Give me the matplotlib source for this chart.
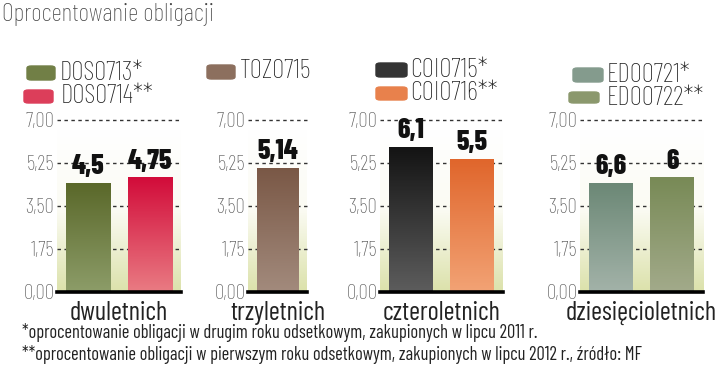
import numpy as np
import matplotlib
matplotlib.use("Agg")
import matplotlib.pyplot as plt
from matplotlib.colors import LinearSegmentedColormap
from matplotlib.patches import FancyBboxPatch

plt.rcParams['font.family'] = ['Barlow Condensed', 'DejaVu Sans']

# data
categories = ["dwuletnich", "trzyletnich", "czteroletnich", "dziesięcioletnich"]
bonds = [["DOS0713*", "DOS0714**"], ["TOZ0715"], ["COI0715*", "COI0716**"], ["EDO0721*", "EDO0722**"]]
bar_heights = [[4.4, 4.62], [5.0], [5.87, 5.36], [4.4, 4.62]]
value_labels = [["4,5", "4,75"], ["5,14"], ["6,1", "5,5"], ["6,6", "6"]]
yticks = [0, 1.75, 3.5, 5.25, 7.0]

# (top colour, bottom colour) per bar
colors = [[("#5a682a", "#8c9c68"), ("#d20c3a", "#e97a82")],
          [("#7a5846", "#a28a7c")],
          [("#141414", "#5c5c5c"), ("#e0662c", "#f2a274")],
          [("#6c8876", "#a2b2a8"), ("#788a56", "#a2aa8a")]]

W, H = 720, 367
fig = plt.figure(figsize=(7.2, 3.67), dpi=100)

def fx(x): return x / W
def fy(y): return 1 - y / H

# axes pixel spans (left, right)
spans = [(57, 181), (248, 307), (380, 503), (580, 703)]
y0, y7 = 291.5, 120
legend_pos = [[(27, 55, 66, 80, 60, 73), (24, 53, 90, 103, 61, 96)],
              [(207, 235, 65, 79, 240, 71)],
              [(376, 407, 63, 77, 410, 70), (376, 407, 87, 100, 410, 93)],
              [(573, 603, 68, 82, 607, 75), (569, 599, 92, 103, 607, 98)]]

bg = LinearSegmentedColormap.from_list("bg", ["#dce2ac", "#fbfbf3", "#ffffff"])
bw = 0.71

for i, cat in enumerate(categories):
    l, r = spans[i]
    ax = fig.add_axes([fx(l), fy(y0), (r - l) / W, (y0 - y7) / H])
    n = len(bonds[i])
    xs = np.arange(n)
    xlim = (-0.5, n - 0.5)
    ax.imshow(np.linspace(0, 1, 100).reshape(-1, 1), extent=[xlim[0], xlim[1], 0, 6.6],
              origin='lower', aspect='auto', cmap=bg, zorder=0)
    bars = ax.bar(xs, bar_heights[i], width=bw, color='none', zorder=2)
    for b, (top, bot), lab in zip(bars, colors[i], value_labels[i]):
        cm = LinearSegmentedColormap.from_list("c", [bot, top])
        ax.imshow(np.linspace(0, 1, 100).reshape(-1, 1),
                  extent=[b.get_x(), b.get_x() + b.get_width(), 0, b.get_height()],
                  origin='lower', aspect='auto', cmap=cm, zorder=2)
        ax.annotate(lab, (b.get_x() + b.get_width() / 2, b.get_height()),
                    xytext=(0, 7), textcoords='offset points', ha='center', va='baseline',
                    fontsize=20, fontweight='heavy', color='#111', zorder=4)
    ax.set_xlim(*xlim)
    ax.set_ylim(0, 7.0)
    ax.set_yticks(yticks)
    ax.set_yticklabels([f"{v:.2f}".replace(".", ",") for v in yticks], fontsize=15,
                       color='#555', fontweight='light')
    ax.tick_params(axis='y', length=0, pad=2)
    ax.set_xticks([])
    for s in ax.spines.values():
        s.set_visible(False)
    for v in yticks[1:]:
        ax.axhline(v, color='#333', lw=1, ls=(0, (2.5, 2.5)), zorder=1, clip_on=False)
    ax.axhline(0, color='black', lw=2.6, zorder=5, clip_on=False)
    ax.text(0.5, -0.055, cat, transform=ax.transAxes, ha='center', va='top',
            fontsize=19, color='#222')

    for (name, (top, bot)), (px0, px1, py0, py1, tx, ty) in zip(zip(bonds[i], colors[i]), legend_pos[i]):
        mid = LinearSegmentedColormap.from_list("m", [top, bot])(0.45)
        fig.patches.append(FancyBboxPatch((fx(px0), fy(py1)), fx(px1 - px0), (py1 - py0) / H,
                                          boxstyle="round,pad=0,rounding_size=0.006",
                                          transform=fig.transFigure, color=mid))
        fig.text(fx(tx), fy(ty), name, ha='left', va='center', fontsize=19.5, color='#222',
                 fontweight='light')

fig.text(fx(2), fy(15), "Oprocentowanie obligacji", ha='left', va='center',
         fontsize=18.5, color='#444', fontweight='light')
fig.text(fx(22), fy(333), "*oprocentowanie obligacji w drugim roku odsetkowym, zakupionych w lipcu 2011 r.",
         ha='left', va='center', fontsize=13.3, color='#222')
fig.text(fx(22), fy(355), "**oprocentowanie obligacji w pierwszym roku odsetkowym, zakupionych w lipcu 2012 r., źródło: MF",
         ha='left', va='center', fontsize=13.3, color='#222')

fig.savefig("out.png", dpi=100, facecolor='white')
